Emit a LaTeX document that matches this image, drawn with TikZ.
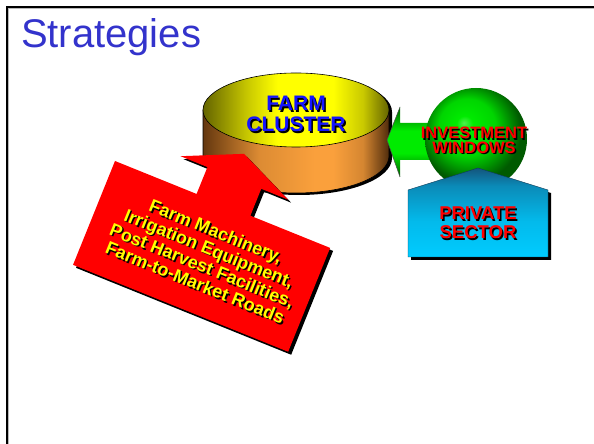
\documentclass[tikz,border=0pt]{standalone}
\usepackage{fontspec}
\setmainfont{Liberation Sans}
\definecolor{titleblue}{RGB}{51,51,204}
\definecolor{fblue}{RGB}{20,20,255}
\definecolor{olive1}{RGB}{100,100,0}
\definecolor{yel}{RGB}{255,255,0}
\definecolor{brown1}{RGB}{100,55,15}
\definecolor{orange1}{RGB}{250,160,60}
\definecolor{dgreen}{RGB}{0,90,0}
\definecolor{lgreen}{RGB}{0,235,0}
\definecolor{teal1}{RGB}{20,85,125}
\definecolor{cyan1}{RGB}{0,204,255}
\definecolor{boxred}{RGB}{255,0,0}
\pgfdeclarehorizontalshading{topface}{100bp}{color(0bp)=(olive1); color(25bp)=(olive1); color(37bp)=(olive1!35!yel); color(45bp)=(yel); color(60bp)=(yel); color(68bp)=(olive1!35!yel); color(75bp)=(olive1); color(100bp)=(olive1)}
\pgfdeclarehorizontalshading{sideface}{100bp}{color(0bp)=(brown1); color(25bp)=(brown1); color(40bp)=(orange1!80!brown1); color(55bp)=(orange1); color(60bp)=(orange1); color(68bp)=(orange1!75!brown1); color(75bp)=(brown1!80!black); color(100bp)=(brown1!80!black)}
\pgfdeclareradialshading{gball}{\pgfpoint{-6bp}{8bp}}{color(0bp)=(lgreen!70!white); color(4bp)=(lgreen); color(14bp)=(lgreen!85!dgreen); color(25bp)=(dgreen); color(50bp)=(dgreen)}
\pgfdeclareverticalshading{garrow}{100bp}{color(0bp)=(dgreen); color(25bp)=(dgreen); color(42bp)=(lgreen); color(58bp)=(lgreen); color(75bp)=(dgreen); color(100bp)=(dgreen)}
\pgfdeclareverticalshading{pent}{100bp}{color(0bp)=(cyan1); color(25bp)=(cyan1); color(45bp)=(cyan1!85!teal1); color(65bp)=(cyan1!45!teal1); color(75bp)=(teal1); color(100bp)=(teal1)}
\begin{document}
\begin{tikzpicture}[x=1pt,y=1pt,
  lbl/.style={font=\bfseries, align=center, inner sep=0pt},
  farmfont/.style={font=\bfseries\fontsize{21}{21}\selectfont},
  invfont/.style={font=\bfseries\fontsize{16.5}{14.5}\selectfont},
  privfont/.style={font=\bfseries\fontsize{18.5}{19}\selectfont},
  boxfont/.style={font=\bfseries\fontsize{18}{18.5}\selectfont}]
\useasboundingbox (0,0) rectangle (594,444);
\fill[white] (0,0) rectangle (594,444);
% frame
\draw[gray!55, line width=1.2pt] (8.8,0) -- (8.8,435.4) -- (594,435.4);
\draw[line width=2pt] (7,0) -- (7,437) -- (594,437);
\node[anchor=base west, inner sep=0pt, text=titleblue, font=\fontsize{40}{48}\selectfont] (title) at (20.8,396.5) {Strategies};

% cylinder
\coordinate (cyl) at (296,334);
\fill[black] (206,332) -- (206,286) arc[start angle=180,end angle=360,x radius=93,y radius=37] -- (392,332) arc[start angle=0,end angle=180,x radius=93,y radius=37] -- cycle;
\shade[shading=sideface, draw=black, line width=0.6pt] (203,334) -- (203,288) arc[start angle=180,end angle=360,x radius=93,y radius=37] -- (389,334) -- cycle;
\shade[shading=topface, draw=black, line width=0.6pt] (cyl) ellipse[x radius=93, y radius=37];
\node[lbl, farmfont, text=black] (farmsh) at (297.6,328.4) {FARM\\CLUSTER};
\node[lbl, farmfont, text=fblue] (farm) at (296,330) {FARM\\CLUSTER};

% green arrow and circle
\shade[shading=garrow] (387,304) -- (400,337) -- (400,321) -- (450,321) -- (450,284) -- (400,284) -- (400,267) -- cycle;
\draw[black!70, line width=0.5pt] (400,337) -- (387,304) -- (400,267);
\shade[shading=gball] (476,305) circle (51);
\node[lbl, invfont, text=black] (invsh) at (475.5,302) {INVESTMENT\\WINDOWS};
\node[lbl, invfont, text=boxred] (inv) at (474,303.5) {INVESTMENT\\WINDOWS};

% private sector
\fill[black] (411,251) -- (481,273) -- (551,251) -- (551,184) -- (411,184) -- cycle;
\shade[shading=pent, draw=teal1!70!black, line width=0.4pt] (408,254) -- (478,276) -- (548,254) -- (548,187) -- (408,187) -- cycle;
\node[lbl, privfont, text=black] (privsh) at (479.5,219.5) {PRIVATE\\SECTOR};
\node[lbl, privfont, text=boxred] (priv) at (478,221) {PRIVATE\\SECTOR};

% red arrow box
\begin{scope}[shift={(118,280)}, rotate=-22]
  \fill[black] (0,0) -- (88,0) -- (88,29) -- (59,29) -- (117,55) -- (175,29) -- (146,29) -- (146,0) -- (232,0) -- (232,-112) -- (0,-112) -- cycle;
\end{scope}
\begin{scope}[shift={(115,283)}, rotate=-22]
  \fill[boxred] (0,0) -- (88,0) -- (88,29) -- (59,29) -- (117,55) -- (175,29) -- (146,29) -- (146,0) -- (232,0) -- (232,-112) -- (0,-112) -- cycle;
\end{scope}
\begin{scope}[shift={(116.4,281.6)}, rotate=-22]
  \node[lbl, boxfont, transform shape, text=black] (boxsh) at (120,-55) {Farm Machinery,\\Irrigation Equipment,\\Post Harvest Facilities,\\Farm-to-Market Roads};
\end{scope}
\begin{scope}[shift={(115,283)}, rotate=-22]
  \node[lbl, boxfont, transform shape, text=yel] (box) at (120,-55) {Farm Machinery,\\Irrigation Equipment,\\Post Harvest Facilities,\\Farm-to-Market Roads};
\end{scope}
\end{tikzpicture}
\end{document}
